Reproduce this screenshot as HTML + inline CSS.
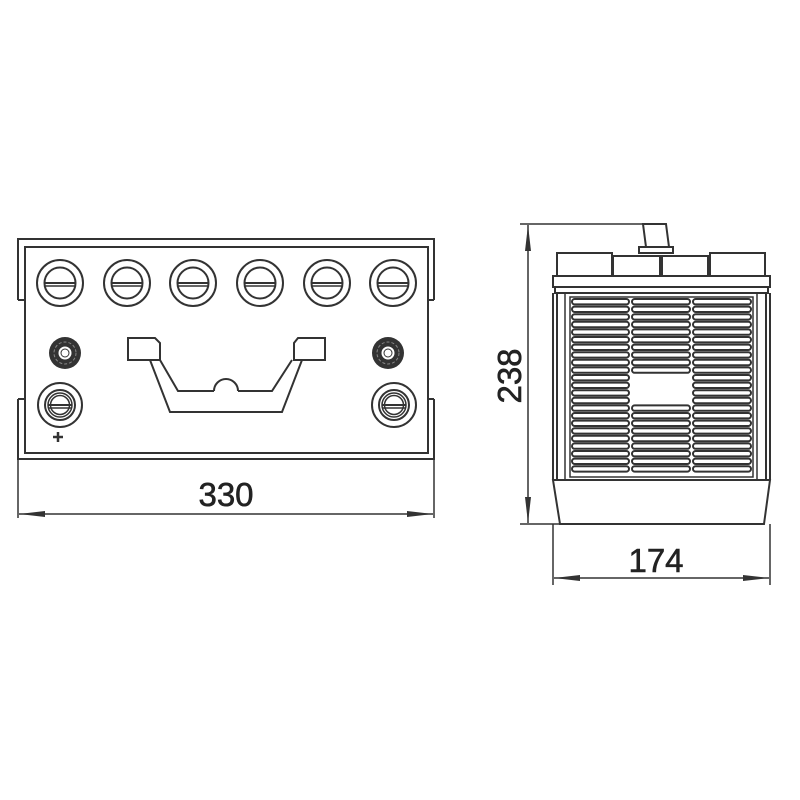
<!DOCTYPE html>
<html><head><style>body{margin:0;background:#fff}svg{display:block}</style></head><body>
<svg width="800" height="800" viewBox="0 0 800 800" xmlns="http://www.w3.org/2000/svg">
<defs>
<g id="cap"><circle r="23" fill="#fff" stroke="#333" stroke-width="2"/><circle r="15.5" fill="none" stroke="#333" stroke-width="2"/><line x1="-15" y1="0" x2="15" y2="0" stroke="#333" stroke-width="2"/><line x1="-15" y1="3" x2="15" y2="3" stroke="#333" stroke-width="1.5"/></g>
<g id="nut"><circle r="16" fill="#333"/><circle r="11" fill="none" stroke="#888" stroke-width="1" stroke-dasharray="3 2"/><circle r="7" fill="#fff" stroke="#333" stroke-width="1"/><circle r="4" fill="#fff" stroke="#333" stroke-width="1"/></g>
<g id="post"><circle r="22" fill="#fff" stroke="#333" stroke-width="2"/><circle r="15" fill="none" stroke="#333" stroke-width="2"/><circle r="12" fill="none" stroke="#333" stroke-width="1.5"/><circle r="9.5" fill="none" stroke="#333" stroke-width="1.5"/><line x1="-12" y1="0" x2="12" y2="0" stroke="#333" stroke-width="2"/><line x1="-12" y1="3" x2="12" y2="3" stroke="#333" stroke-width="1.5"/></g>
<g id="r3" fill="none" stroke="#333" stroke-width="2"><rect x="572" y="0" width="57" height="5.4" rx="2.7"/><rect x="632" y="0" width="58" height="5.4" rx="2.7"/><rect x="693" y="0" width="58" height="5.4" rx="2.7"/></g>
<g id="r2" fill="none" stroke="#333" stroke-width="2"><rect x="572" y="0" width="57" height="5.4" rx="2.7"/><rect x="693" y="0" width="58" height="5.4" rx="2.7"/></g>
<marker id="a" markerWidth="26" markerHeight="8" refX="26" refY="4" orient="auto-start-reverse" markerUnits="userSpaceOnUse"><path d="M26,4 L0,1 L0,7 Z" fill="#333"/></marker>
</defs>
<g fill="none" stroke="#333" stroke-width="2">
<path d="M18,300 V239 H434 V300 M434,399 V459 H18 V399"/>
<path d="M18,300 H25 M18,399 H25 M434,300 H428 M434,399 H428"/>
<rect x="25" y="247" width="403" height="206"/>
<path d="M18,459 V518 M434,459 V518" stroke-width="1.5"/>
<line x1="19" y1="514" x2="433" y2="514" stroke-width="1.5" marker-start="url(#a)" marker-end="url(#a)"/>
<path d="M128,338 H155 L160,343 V360 H128 Z M325,338 H298 L294,343 V360 H325 Z"/>
<path d="M150,360 L170,412 H282 L302,360 M160,360 L178,391 H214 M238,391 H272 L292,360"/>
<path d="M214,391 A12,12 0 0 1 238,391"/>
<path d="M520,224 H643 M520,524 H560" stroke-width="1.5"/>
<path d="M643,224 H666 L669,247 H646 Z"/>
<rect x="639" y="247" width="34" height="6"/>
<rect x="557" y="253" width="55" height="23"/>
<rect x="613" y="256" width="47" height="20"/>
<rect x="662" y="256" width="46" height="20"/>
<rect x="710" y="253" width="55" height="23"/>
<rect x="553" y="276" width="217" height="11"/>
<rect x="555" y="287" width="213" height="6"/>
<path d="M553,293 V480 M770,293 V480 M557,293 V480 M766,293 V480" />
<path d="M565,293 V480 M757,293 V480" stroke-width="1.5"/>
<rect x="570" y="297" width="183" height="180" stroke-width="1.5"/>
<path d="M553,480 H770 L764,524 H560 Z"/>
<path d="M553,524 V585 M770,524 V585" stroke-width="1.5"/>
<line x1="528" y1="225" x2="528" y2="523" stroke-width="1.5" marker-start="url(#a)" marker-end="url(#a)"/>
<line x1="554" y1="578" x2="769" y2="578" stroke-width="1.5" marker-start="url(#a)" marker-end="url(#a)"/>
</g>
<g>
<use href="#cap" x="60" y="283"/><use href="#cap" x="127" y="283"/><use href="#cap" x="193" y="283"/><use href="#cap" x="260" y="283"/><use href="#cap" x="327" y="283"/><use href="#cap" x="393" y="283"/>
<use href="#nut" x="65" y="353"/><use href="#nut" x="388" y="353"/>
<use href="#post" x="60" y="405"/><use href="#post" x="394" y="405"/>
</g>
<path d="M53,437 H63 M58,432 V442" stroke="#333" stroke-width="2.5"/>
<g>
<use href="#r3" y="299"/><use href="#r3" y="306.6"/><use href="#r3" y="314.2"/><use href="#r3" y="321.8"/><use href="#r3" y="329.4"/><use href="#r3" y="337"/><use href="#r3" y="344.6"/><use href="#r3" y="352.2"/><use href="#r3" y="359.8"/><use href="#r3" y="367.4"/>
<use href="#r2" y="375"/><use href="#r2" y="382.6"/><use href="#r2" y="390.2"/><use href="#r2" y="397.8"/>
<use href="#r3" y="405.4"/><use href="#r3" y="413"/><use href="#r3" y="420.6"/><use href="#r3" y="428.2"/><use href="#r3" y="435.8"/><use href="#r3" y="443.4"/><use href="#r3" y="451"/><use href="#r3" y="458.6"/><use href="#r3" y="466.2"/>
</g>
<g font-family="'Liberation Sans Narrow','Liberation Sans',sans-serif" font-size="33" fill="#222" text-anchor="middle" stroke="#222" stroke-width="0.6">
<text x="226" y="506">330</text>
<text x="656" y="572">174</text>
<text transform="translate(521,376) rotate(-90)">238</text>
</g>
</svg>
</body></html>
